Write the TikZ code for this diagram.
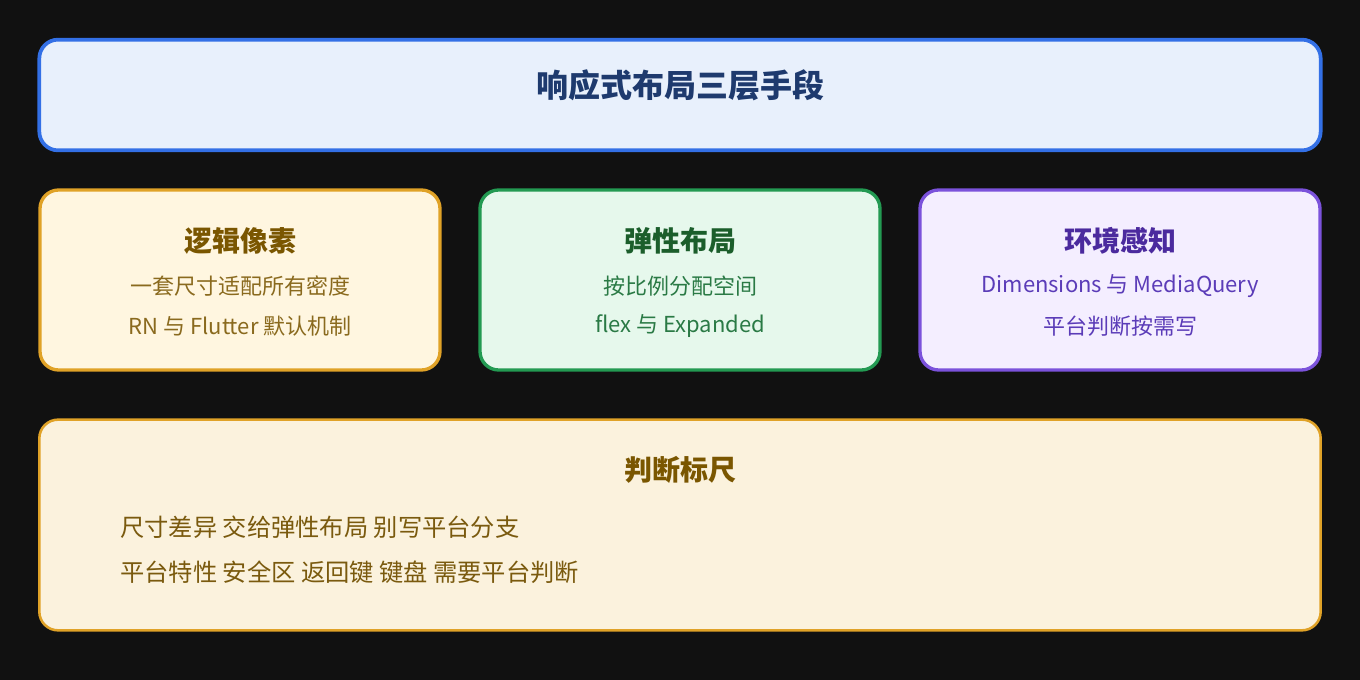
\documentclass[tikz,border=0pt]{standalone}
\usepackage{fontspec}
\setmainfont{Noto Sans CJK SC}
\usepackage{tikz}
\usetikzlibrary{positioning}

\definecolor{bgdark}{HTML}{111111}
\definecolor{headline}{HTML}{3370E6}
\definecolor{headfill}{HTML}{E8F0FC}
\definecolor{headtext}{HTML}{1E3A6E}
\definecolor{amberline}{HTML}{E0A227}
\definecolor{amberfill}{HTML}{FFF6E0}
\definecolor{ambertitle}{HTML}{7A5600}
\definecolor{ambertext}{HTML}{8A6A1E}
\definecolor{greenline}{HTML}{239A52}
\definecolor{greenfill}{HTML}{E6F8EC}
\definecolor{greentitle}{HTML}{1B5E2B}
\definecolor{greentext}{HTML}{2A7A45}
\definecolor{violetline}{HTML}{7B52DB}
\definecolor{violetfill}{HTML}{F4EEFF}
\definecolor{violettitle}{HTML}{4B2A9E}
\definecolor{violettext}{HTML}{5B3CB8}
\definecolor{rulerfill}{HTML}{FBF2DD}
\definecolor{rulertext}{HTML}{7A5A0E}

\begin{document}
\begin{tikzpicture}[x=0.75pt, y=-0.75pt,
        panel/.style={rectangle, rounded corners=14pt, line width=2.5pt, minimum width=300pt, minimum height=135pt},
        header/.style={rectangle, rounded corners=14pt, line width=2.8pt, draw=headline, fill=headfill, minimum width=961pt, minimum height=83pt},
        ruler/.style={rectangle, rounded corners=14pt, line width=1.9pt, draw=amberline, fill=rulerfill, minimum width=961pt, minimum height=158pt},
        cardtitle/.style={font=\bfseries\fontsize{21pt}{25pt}\selectfont},
        cardline/.style={font=\fontsize{16.5pt}{20pt}\selectfont},
        rulerline/.style={font=\fontsize{18.2pt}{22pt}\selectfont, text=rulertext, anchor=west, inner sep=0pt}
      ]
        \fill[bgdark] (0,0) rectangle (1360,680);

        % header
        \node[header] (head) at (680,95) {};
        \node[font=\bfseries\fontsize{24pt}{28pt}\selectfont, text=headtext] (headlabel) at (680,85) {响应式布局三层手段};

        % three means
        \node[panel, draw=amberline, fill=amberfill]   (pixel) at (240,280) {};
        \node[panel, draw=greenline, fill=greenfill]   (flex)  at (680,280) {};
        \node[panel, draw=violetline, fill=violetfill] (env)   at (1120,280) {};

        \node[cardtitle, text=ambertitle]  (pixeltitle) at (240,241) {逻辑像素};
        \node[cardline, text=ambertext]    (pixelone)   at (240,286) {一套尺寸适配所有密度};
        \node[cardline, text=ambertext]    (pixeltwo)   at (240,326) {RN 与 Flutter 默认机制};

        \node[cardtitle, text=greentitle]  (flextitle)  at (680,241) {弹性布局};
        \node[cardline, text=greentext]    (flexone)    at (680,286) {按比例分配空间};
        \node[cardline, text=greentext]    (flextwo)    at (680,326) {flex 与 Expanded};

        \node[cardtitle, text=violettitle] (envtitle)   at (1120,241) {环境感知};
        \node[cardline, text=violettext]   (envone)     at (1120,286) {Dimensions 与 MediaQuery};
        \node[cardline, text=violettext]   (envtwo)     at (1120,326) {平台判断按需写};

        % ruler
        \node[ruler] (judge) at (680,525) {};
        \node[cardtitle, text=ambertitle] (judgetitle) at (680,470) {判断标尺};
        \node[rulerline] (judgeone) at (120,527) {尺寸差异 交给弹性布局 别写平台分支};
        \node[rulerline] (judgetwo) at (120,572) {平台特性 安全区 返回键 键盘 需要平台判断};
      \end{tikzpicture}
\end{document}
